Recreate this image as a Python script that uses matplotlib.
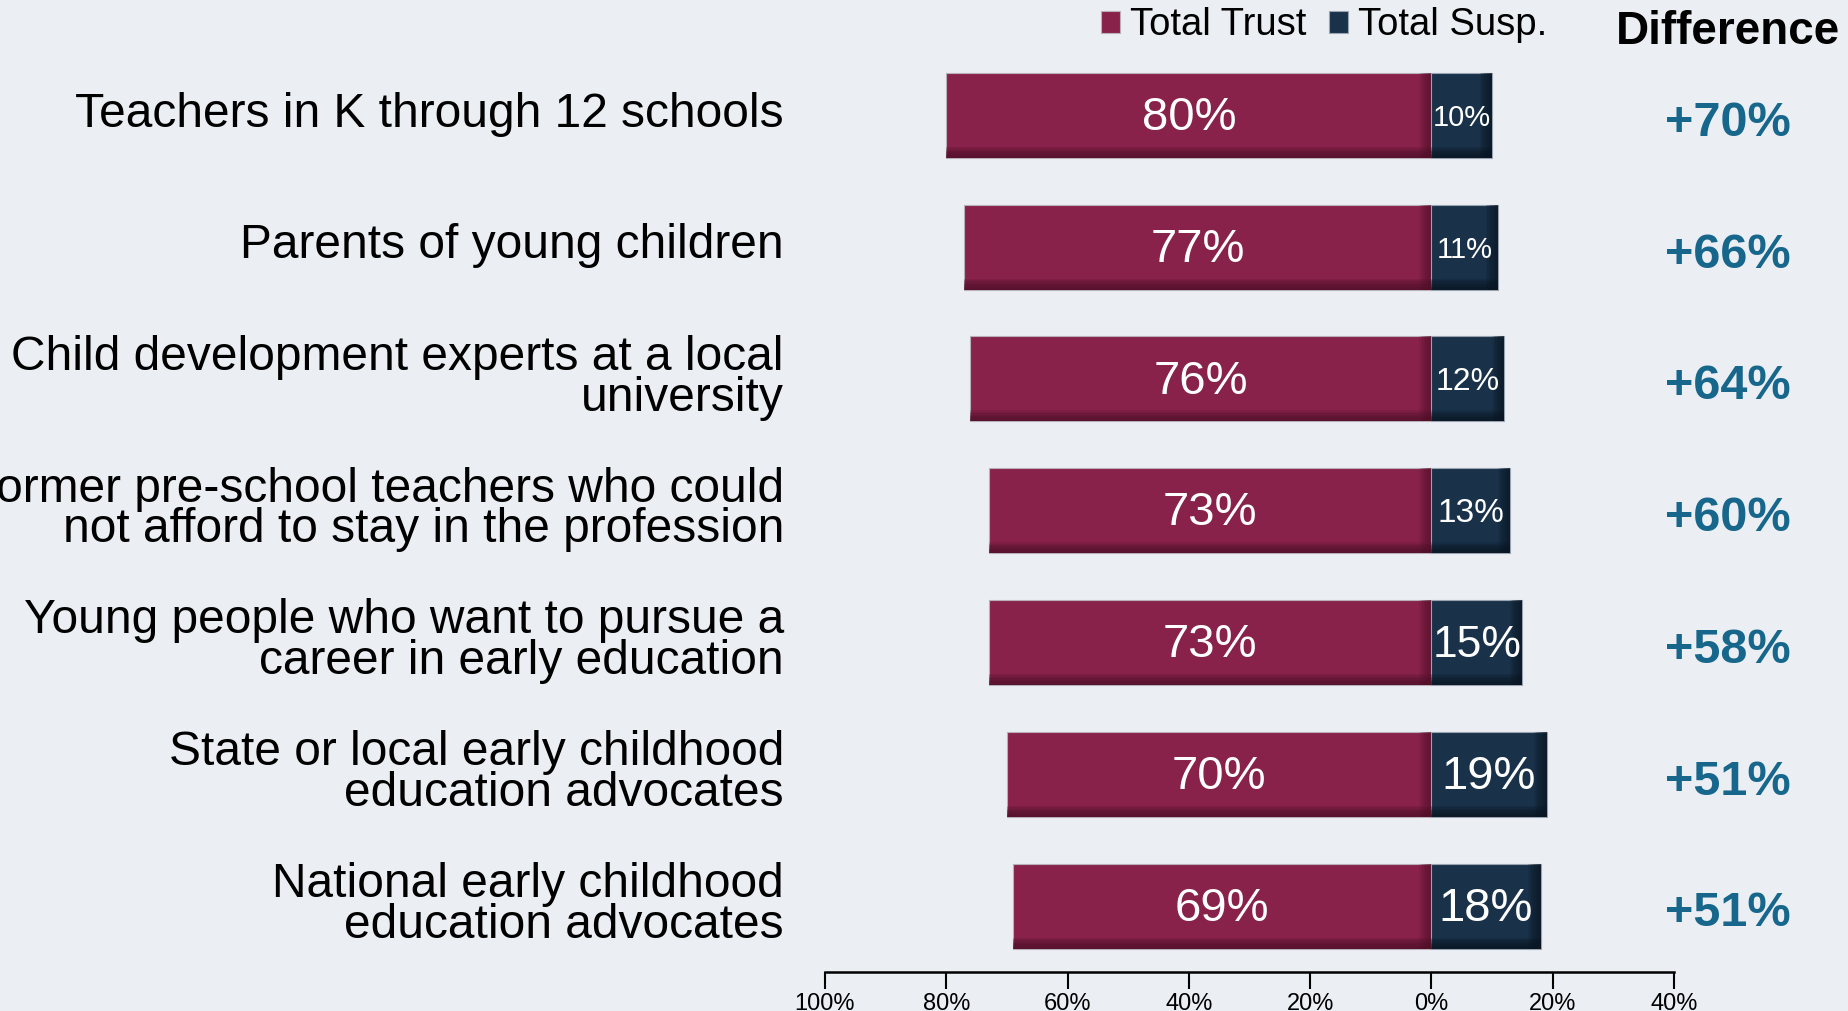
import numpy as np
import matplotlib.pyplot as plt
from matplotlib.transforms import blended_transform_factory

plt.rcParams['font.family'] = ['Liberation Sans', 'DejaVu Sans']

categories = [
    'Teachers in K through 12 schools',
    'Parents of young children',
    'Child development experts at a local\nuniversity',
    'Former pre-school teachers who could\nnot afford to stay in the profession',
    'Young people who want to pursue a\ncareer in early education',
    'State or local early childhood\neducation advocates',
    'National early childhood\neducation advocates',
]
trust = [80, 77, 76, 73, 73, 70, 69]
susp = [10, 11, 12, 13, 15, 19, 18]
difference = [70, 66, 64, 60, 58, 51, 51]
susp_font = [21, 21, 23, 24, 32, 34, 34]

xticks = [-100, -80, -60, -40, -20, 0, 20, 40]
xtick_labels = ['100%', '80%', '60%', '40%', '20%', '0%', '20%', '40%']

bg = '#ebeef3'
trust_col = '#89224a'
trust_dark = '#4e1028'
susp_col = '#19324a'
susp_dark = '#0a1622'
diff_col = '#17668c'

fig = plt.figure(figsize=(18.48, 10.11), dpi=100, facecolor=bg)
ax = fig.add_axes([0.4464, 0.0386, 0.4594, 0.9124])
ax.set_facecolor(bg)

y = np.arange(len(categories))
h = 0.645

ax.barh(y, [-t for t in trust], height=h, color=trust_col, edgecolor='#b8b0b8', linewidth=0.8,
        label='Total Trust', zorder=2)
ax.barh(y, susp, height=h, color=susp_col, edgecolor='#9aa4b0', linewidth=0.8,
        label='Total Susp.', zorder=2)

# dark shading along the bottom of the bars
steps = 8
for k in range(steps):
    th = h * 0.13 * (1 - k / steps)
    ax.barh(y + h / 2 - th / 2, [-t for t in trust], height=th, color=trust_dark,
            alpha=0.18, linewidth=0, zorder=3)
    ax.barh(y + h / 2 - th / 2, susp, height=th, color=susp_dark,
            alpha=0.18, linewidth=0, zorder=3)
# shading at the right edge of each bar
for k in range(steps):
    w = 2.0 * (1 - k / steps)
    ax.barh(y, [w] * len(y), left=[-w] * len(y), height=h, color=trust_dark,
            alpha=0.12, linewidth=0, zorder=3)
    ax.barh(y, [w] * len(y), left=[s - w for s in susp], height=h, color=susp_dark,
            alpha=0.15, linewidth=0, zorder=3)

for i in range(len(categories)):
    ax.text(-trust[i] / 2, y[i] + 0.02, f'{trust[i]}%', ha='center', va='center',
            color='white', fontsize=34, zorder=4)
    ax.text(susp[i] / 2, y[i] + 0.02, f'{susp[i]}%', ha='center', va='center',
            color='white', fontsize=susp_font[i], zorder=4)

ax.set_xlim(-100, 40)
ax.set_ylim(6.5, -0.5)
ax.set_xticks(xticks)
ax.set_xticklabels(xtick_labels, fontsize=17)
ax.set_yticks([])
ax.tick_params(axis='x', direction='out', length=12, width=1.5, color='black', pad=3)
for s in ['top', 'right', 'left']:
    ax.spines[s].set_visible(False)
ax.spines['bottom'].set_linewidth(1.8)

trans = blended_transform_factory(fig.transFigure, ax.transData)
for i, c in enumerate(categories):
    ax.text(0.4242, y[i] - 0.01, c, transform=trans, ha='right', va='center',
            fontsize=34.5, linespacing=0.88, color='black', clip_on=False)
    ax.text(0.935, y[i] + 0.06, f'+{difference[i]}%', transform=trans, ha='center',
            va='center', fontsize=35, fontweight='bold', color=diff_col, clip_on=False)

fig.text(0.935, 0.968, 'Difference', ha='center', va='center', fontsize=33,
         fontweight='bold', color='black')

fig.legend(loc='center right', bbox_to_anchor=(0.8475, 0.975), ncol=2, frameon=False,
           fontsize=27.5, handlelength=0.5, handleheight=0.5, handletextpad=0.25,
           columnspacing=0.6, borderpad=0)

fig.savefig('out.png', dpi=100, facecolor=bg)
